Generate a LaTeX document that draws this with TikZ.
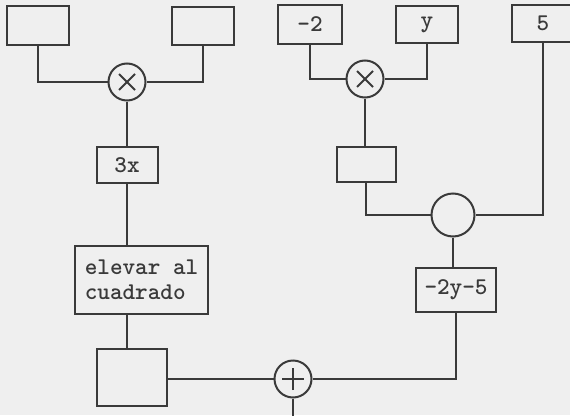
\documentclass[tikz,border=0pt]{standalone}
\usepackage{tikz}
\usetikzlibrary{calc}
\definecolor{paper}{RGB}{239,239,239}
\definecolor{ink}{RGB}{58,58,58}

\begin{document}
\begin{tikzpicture}[x=1pt, y=-1pt, line width=2pt, draw=ink,
    box/.style={draw=ink, rectangle, inner sep=0pt, text=ink, font=\fontsize{24}{25}\selectfont\ttfamily\bfseries},
    opnode/.style={draw=ink, circle, inner sep=0pt, minimum size=37pt},
    mulnode/.style={opnode, path picture={
        \draw[ink, line width=1.8pt] ([shift={(-8pt,-8pt)}]path picture bounding box.center) -- ([shift={(8pt,8pt)}]path picture bounding box.center);
        \draw[ink, line width=1.8pt] ([shift={(-8pt,8pt)}]path picture bounding box.center) -- ([shift={(8pt,-8pt)}]path picture bounding box.center);}},
    addnode/.style={opnode, path picture={
        \draw[ink, line width=1.8pt] ([xshift=-11pt]path picture bounding box.center) -- ([xshift=11pt]path picture bounding box.center);
        \draw[ink, line width=1.8pt] ([yshift=-11pt]path picture bounding box.center) -- ([yshift=11pt]path picture bounding box.center);}},
    wire/.style={draw=ink, line width=2.2pt}]
    \fill[paper] (0,0) rectangle (570,415);
    \useasboundingbox (0,0) rectangle (570,415);

    \node[box, minimum width=62pt, minimum height=39pt] (in1) at (38,25.5) {};
    \node[box, minimum width=62pt, minimum height=38pt] (in2) at (203,26) {};
    \node[box, minimum width=64pt, minimum height=39pt] (in3) at (310,24.5) {-2};
    \node[box, minimum width=62pt, minimum height=37pt] (in4) at (427,24.5) {y};
    \node[box, minimum width=62pt, minimum height=37pt] (in5) at (543,23.5) {5};

    \node[mulnode] (mul1) at (127,82) {};
    \node[mulnode] (mul2) at (365,79) {};

    \node[box, minimum width=61pt, minimum height=36pt] (b3x) at (127,165) {3x};
    \node[box, minimum width=59pt, minimum height=35pt] (bneg) at (366,164.5) {};
    \node[opnode, minimum size=43pt] (sub) at (453,215) {};
    \node[box, minimum width=133pt, minimum height=68pt, align=left] (bsq) at (141.5,280) {elevar al\\cuadrado};
    \node[box, minimum width=80pt, minimum height=44pt] (bres) at (456,290) {-2y-5};
    \node[box, minimum width=70pt, minimum height=57pt] (bout) at (132,377.5) {};
    \node[addnode] (add) at (293,379) {};
    \coordinate (out) at (293,420);

    \draw[wire] (in1.south) |- (mul1.west);
    \draw[wire] (in2.south) |- (mul1.east);
    \draw[wire] (mul1.south) -- (b3x.north);
    \draw[wire] (b3x.south) -- (b3x.south |- bsq.north);
    \draw[wire] (b3x.south |- bsq.south) -- (b3x.south |- bout.north);
    \draw[wire] (in3.south) |- (mul2.west);
    \draw[wire] (in4.south) |- (mul2.east);
    \draw[wire] (mul2.south) -- (mul2.south |- bneg.north);
    \draw[wire] (bneg.south) |- (sub.west);
    \draw[wire] (in5.south) |- (sub.east);
    \draw[wire] (sub.south) -- (sub.south |- bres.north);
    \draw[wire] (bres.south) |- (add.east);
    \draw[wire] (bout.east |- add.west) -- (add.west);
    \draw[wire] (add.south) -- (out);
\end{tikzpicture}
\end{document}
